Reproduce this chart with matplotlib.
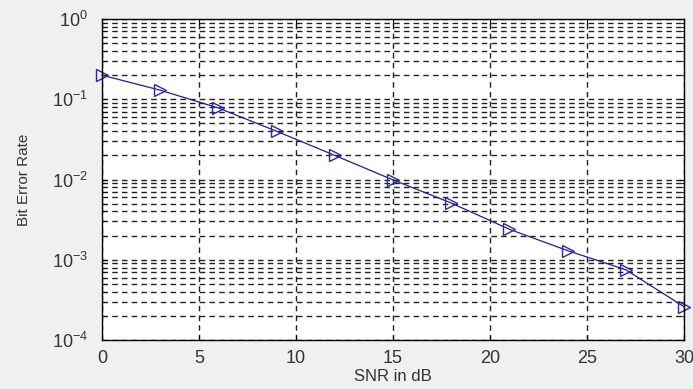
import matplotlib.pyplot as plt
from matplotlib.ticker import LogLocator, NullFormatter

# Data
snr_db = [0, 3, 6, 9, 12, 15, 18, 21, 24, 27, 30]
ber = [0.20, 0.13, 0.078, 0.040, 0.020, 0.0099, 0.0051, 0.0024, 0.0013, 0.00075, 0.00026]
x_ticks = [0, 5, 10, 15, 20, 25, 30]

plt.rcParams['font.family'] = ['Liberation Sans', 'DejaVu Sans']

fig = plt.figure(figsize=(6.93, 3.89), dpi=100, facecolor='#f0f0f0')
ax = fig.add_axes([0.147, 0.126, 0.840, 0.825])
ax.set_facecolor('white')

ax.semilogy(snr_db, ber, color='#1f1f8a', linewidth=0.9, marker='>',
            markersize=9, markerfacecolor='none', markeredgecolor='#2a2a9a',
            markeredgewidth=1.0, clip_on=False)

ax.set_xlim(0, 30)
ax.set_ylim(1e-4, 1)
ax.set_xticks(x_ticks)
ax.yaxis.set_major_locator(LogLocator(base=10, numticks=10))
ax.yaxis.set_minor_locator(LogLocator(base=10, subs=range(2, 10), numticks=50))
ax.yaxis.set_minor_formatter(NullFormatter())

ax.grid(True, which='major', axis='both', color='#222222', linestyle=(0, (4, 3)), linewidth=1.0)
ax.grid(True, which='minor', axis='y', color='#222222', linestyle=(0, (4, 3)), linewidth=1.0)

ax.tick_params(which='both', direction='in', top=True, right=True, labelsize=13,
               labelcolor='#333333')
ax.tick_params(axis='x', pad=7)
ax.tick_params(axis='y', pad=10)
for s in ax.spines.values():
    s.set_linewidth(1.0)

ax.set_xlabel('SNR in dB', fontsize=12, labelpad=2, color='#333333')
ax.set_ylabel('Bit Error Rate', fontsize=11, labelpad=15, color='#333333',
              family=['Liberation Sans Narrow', 'Liberation Sans', 'DejaVu Sans'])

fig.savefig('out.png', dpi=100, facecolor=fig.get_facecolor())
